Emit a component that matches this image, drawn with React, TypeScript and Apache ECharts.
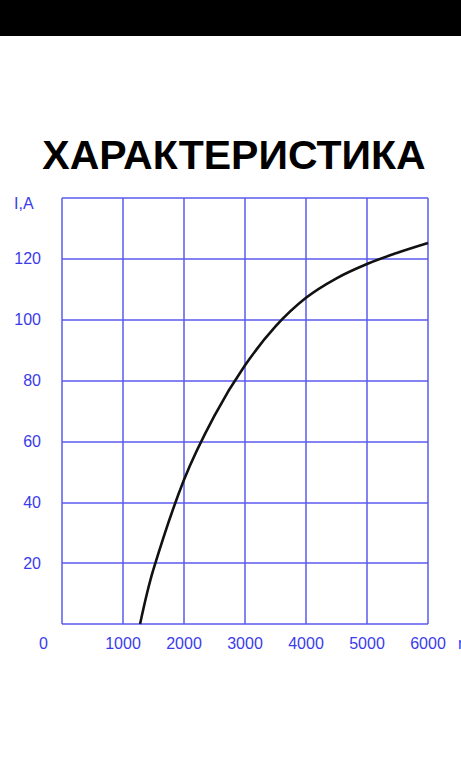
import React, { useEffect, useRef } from "react";
import * as echarts from "echarts";

const title = "ХАРАКТЕРИСТИКА";
const yAxisName = "I,A";
const xAxisName = "n, об/мин";
const speed = [1280, 1500, 2000, 2500, 3000, 3500, 4000, 4500, 5000, 5500, 6000];
const current = [0, 18, 47.4, 68.5, 85, 97.8, 107.2, 113.6, 118.3, 122, 125.2];

const BLUE_TEXT = "#3b3bea";
const BLUE_LINE = "#5a5af0";

export default function App() {
  const ref = useRef<HTMLDivElement>(null);
  useEffect(() => {
    if (!ref.current) return;
    const chart = echarts.init(ref.current, null, { renderer: "svg" });
    const data = speed.map((x, i) => [x, current[i]]);
    chart.setOption({
      animation: false,
      backgroundColor: "#ffffff",
      grid: { left: 62, right: 33, top: 198, bottom: 144 },
      xAxis: {
        type: "value",
        min: 0,
        max: 6000,
        interval: 1000,
        axisLine: { show: false },
        axisTick: { show: false },
        axisLabel: {
          color: BLUE_TEXT,
          fontSize: 16,
          fontFamily: "Liberation Sans, Arial, sans-serif",
          margin: 11,
          showMinLabel: false,
          formatter: (v: number) => (v === 0 ? "" : String(v)),
        },
        splitLine: { show: true, lineStyle: { color: BLUE_LINE, width: 1.5 } },
      },
      yAxis: {
        type: "value",
        min: 0,
        max: 140,
        interval: 20,
        axisLine: { show: false },
        axisTick: { show: false },
        axisLabel: {
          color: BLUE_TEXT,
          fontSize: 16,
          fontFamily: "Liberation Sans, Arial, sans-serif",
          margin: 21,
          formatter: (v: number) => (v === 0 || v === 140 ? "" : String(v)),
        },
        splitLine: { show: true, lineStyle: { color: BLUE_LINE, width: 1.5 } },
      },
      graphic: [
        { type: "rect", left: 0, top: 0, shape: { width: 461, height: 36 }, style: { fill: "#000000" } },
        {
          type: "text",
          x: 234,
          y: 155,
          style: {
            text: title,
            fill: "#000000",
            font: "bold 41px 'Liberation Sans', Arial, sans-serif",
            textAlign: "center",
            textVerticalAlign: "middle",
          },
        },
        {
          type: "text",
          x: 14,
          y: 203,
          style: {
            text: yAxisName,
            fill: BLUE_TEXT,
            font: "16px 'Liberation Sans', Arial, sans-serif",
            textAlign: "left",
            textVerticalAlign: "middle",
          },
        },
        {
          type: "text",
          x: 43.5,
          y: 643,
          style: {
            text: "0",
            fill: BLUE_TEXT,
            font: "16px 'Liberation Sans', Arial, sans-serif",
            textAlign: "center",
            textVerticalAlign: "middle",
          },
        },
        {
          type: "text",
          x: 458,
          y: 643,
          style: {
            text: xAxisName,
            fill: BLUE_TEXT,
            font: "16px 'Liberation Sans', Arial, sans-serif",
            textAlign: "left",
            textVerticalAlign: "middle",
          },
        },
      ],
      series: [
        {
          type: "line",
          data,
          smooth: 0.35,
          showSymbol: false,
          symbol: "none",
          lineStyle: { color: "#111111", width: 2.6 },
        },
      ],
    });
    return () => chart.dispose();
  }, []);
  return <div ref={ref} style={{ position: "absolute", left: 0, top: 0, width: 461, height: 768 }} />;
}
